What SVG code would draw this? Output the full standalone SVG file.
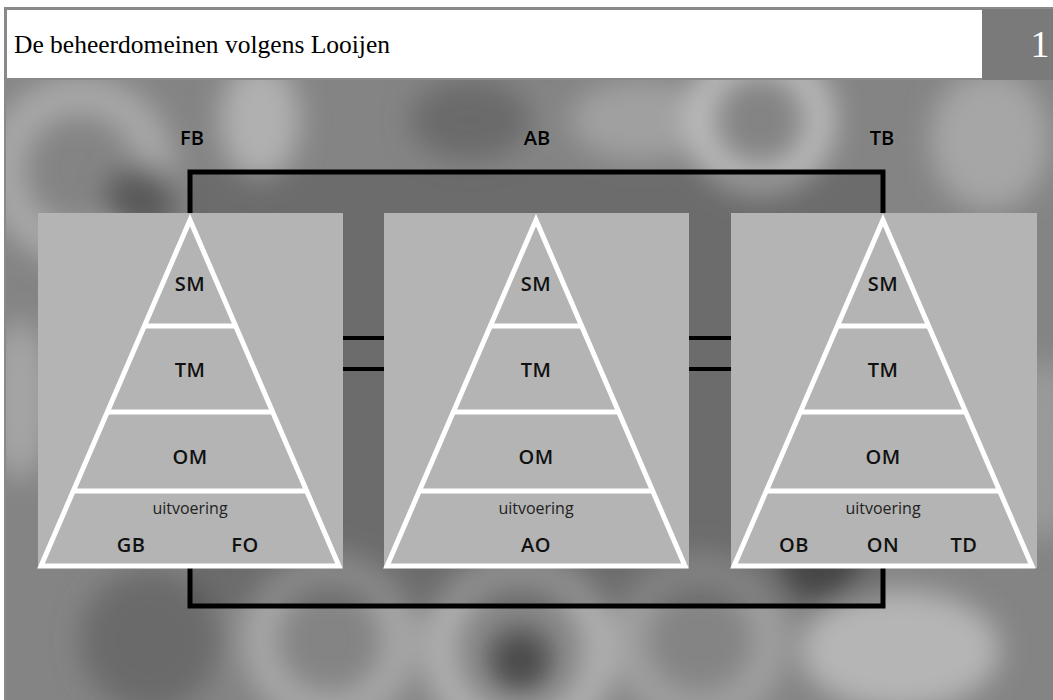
<svg xmlns="http://www.w3.org/2000/svg" width="1053" height="700" viewBox="0 0 1053 700">
  <defs>
    <filter id="blur" x="-20%" y="-20%" width="140%" height="140%">
      <feGaussianBlur stdDeviation="14"/>
    </filter>
    <clipPath id="photoClip"><rect x="6" y="80" width="1047" height="620"/></clipPath>
    <style>
      .panel { fill: #b4b4b4; }
      .pyr { fill: none; stroke: #ffffff; stroke-width: 5; stroke-linejoin: miter; }
      .div { stroke: #ffffff; stroke-width: 5; }
      .lbl { font-family: "Open Sans", "Liberation Sans", sans-serif; font-weight: 600; font-size: 20px; letter-spacing: 0.5px; fill: #111; text-anchor: middle; }
      .sub { font-family: "Open Sans", "Liberation Sans", sans-serif; font-size: 16px; fill: #222; text-anchor: middle; }
      .dom { font-family: "Open Sans", "Liberation Sans", sans-serif; font-weight: 600; font-size: 20px; fill: #000; text-anchor: middle; }
      .conn { fill: none; stroke: #000; stroke-width: 5; }
    </style>
  </defs>

  <rect x="0" y="0" width="1053" height="700" fill="#ffffff"/>

  <!-- background photo approximation -->
  <g id="background" clip-path="url(#photoClip)">
    <rect x="6" y="80" width="1047" height="620" fill="#848484"/>
    <g filter="url(#blur)">
      <circle cx="80" cy="170" r="75" fill="none" stroke="#a8a8a8" stroke-width="40"/>
      <circle cx="140" cy="200" r="35" fill="#5a5a5a"/>
      <ellipse cx="260" cy="120" rx="40" ry="60" fill="#b0b0b0"/>
      <ellipse cx="470" cy="120" rx="60" ry="40" fill="#6a6a6a"/>
      <ellipse cx="640" cy="120" rx="70" ry="40" fill="#a0a0a0"/>
      <circle cx="760" cy="120" r="60" fill="none" stroke="#bdbdbd" stroke-width="30"/>
      <ellipse cx="990" cy="140" rx="60" ry="70" fill="#a6a6a6"/>
      <ellipse cx="20" cy="400" rx="30" ry="80" fill="#a5a5a5"/>
      <circle cx="150" cy="640" r="70" fill="#6a6a6a"/>
      <circle cx="330" cy="640" r="70" fill="none" stroke="#a8a8a8" stroke-width="35"/>
      <circle cx="520" cy="650" r="80" fill="none" stroke="#b0b0b0" stroke-width="35"/>
      <circle cx="520" cy="660" r="30" fill="#4a4a4a"/>
      <circle cx="700" cy="640" r="70" fill="none" stroke="#a0a0a0" stroke-width="35"/>
      <ellipse cx="900" cy="650" rx="100" ry="60" fill="#b5b5b5"/>
      <circle cx="820" cy="560" r="40" fill="#555555"/>
      <ellipse cx="1040" cy="450" rx="40" ry="90" fill="#9a9a9a"/>
    </g>
  </g>

  <!-- frame & title -->
  <g id="title">
    <rect x="4" y="7" width="1049" height="73" fill="#8a8a8a"/>
    <rect x="4" y="7" width="2" height="693" fill="#8a8a8a"/>
    <rect x="7" y="10" width="975" height="68" fill="#ffffff"/>
    <rect x="982" y="9" width="71" height="71" fill="#7a7a7a"/>
    <text x="14" y="53" font-family="'Liberation Serif', serif" font-size="25.5" fill="#000">De beheerdomeinen volgens Looijen</text>
    <text x="1040" y="57" font-family="'Liberation Serif', serif" font-size="38" fill="#ffffff" text-anchor="middle">1</text>
  </g>

  <!-- connectors -->
  <g id="connectors">
    <rect x="190" y="172" width="693" height="434" fill="#000" fill-opacity="0.18"/>
    <polyline class="conn" points="190,215 190,172 883,172 883,215"/>
    <polyline class="conn" points="190,566 190,606 883,606 883,566"/>
    <line x1="343" y1="338" x2="384" y2="338" stroke="#000" stroke-width="4"/>
    <line x1="343" y1="369" x2="384" y2="369" stroke="#000" stroke-width="4"/>
    <line x1="689" y1="338" x2="731" y2="338" stroke="#000" stroke-width="4"/>
    <line x1="689" y1="369" x2="731" y2="369" stroke="#000" stroke-width="4"/>
  </g>

  <!-- domain labels -->
  <text class="dom" x="192" y="145">FB</text>
  <text class="dom" x="537" y="145">AB</text>
  <text class="dom" x="882" y="145">TB</text>

  <!-- FB pyramid -->
  <g id="node-fb">
    <rect class="panel" x="38" y="213" width="305" height="355"/>
    <polygon class="pyr" points="190,220 41,566 339,566"/>
    <line class="div" x1="143" y1="326" x2="237" y2="326"/>
    <line class="div" x1="106" y1="412" x2="274" y2="412"/>
    <line class="div" x1="72" y1="491" x2="308" y2="491"/>
    <text class="lbl" x="190" y="291">SM</text>
    <text class="lbl" x="190" y="377">TM</text>
    <text class="lbl" x="190" y="464">OM</text>
    <text class="sub" x="190" y="514">uitvoering</text>
    <text class="lbl" x="131" y="552">GB</text>
    <text class="lbl" x="245" y="552">FO</text>
  </g>

  <!-- AB pyramid -->
  <g id="node-ab">
    <rect class="panel" x="384" y="213" width="305" height="355"/>
    <polygon class="pyr" points="536,220 387,566 685,566"/>
    <line class="div" x1="489" y1="326" x2="583" y2="326"/>
    <line class="div" x1="452" y1="412" x2="620" y2="412"/>
    <line class="div" x1="418" y1="491" x2="654" y2="491"/>
    <text class="lbl" x="536" y="291">SM</text>
    <text class="lbl" x="536" y="377">TM</text>
    <text class="lbl" x="536" y="464">OM</text>
    <text class="sub" x="536" y="514">uitvoering</text>
    <text class="lbl" x="536" y="552">AO</text>
  </g>

  <!-- TB pyramid -->
  <g id="node-tb">
    <rect class="panel" x="731" y="213" width="306" height="355"/>
    <polygon class="pyr" points="883,220 734,566 1032,566"/>
    <line class="div" x1="836" y1="326" x2="930" y2="326"/>
    <line class="div" x1="799" y1="412" x2="967" y2="412"/>
    <line class="div" x1="765" y1="491" x2="1001" y2="491"/>
    <text class="lbl" x="883" y="291">SM</text>
    <text class="lbl" x="883" y="377">TM</text>
    <text class="lbl" x="883" y="464">OM</text>
    <text class="sub" x="883" y="514">uitvoering</text>
    <text class="lbl" x="794" y="552">OB</text>
    <text class="lbl" x="883" y="552">ON</text>
    <text class="lbl" x="964" y="552">TD</text>
  </g>
</svg>
